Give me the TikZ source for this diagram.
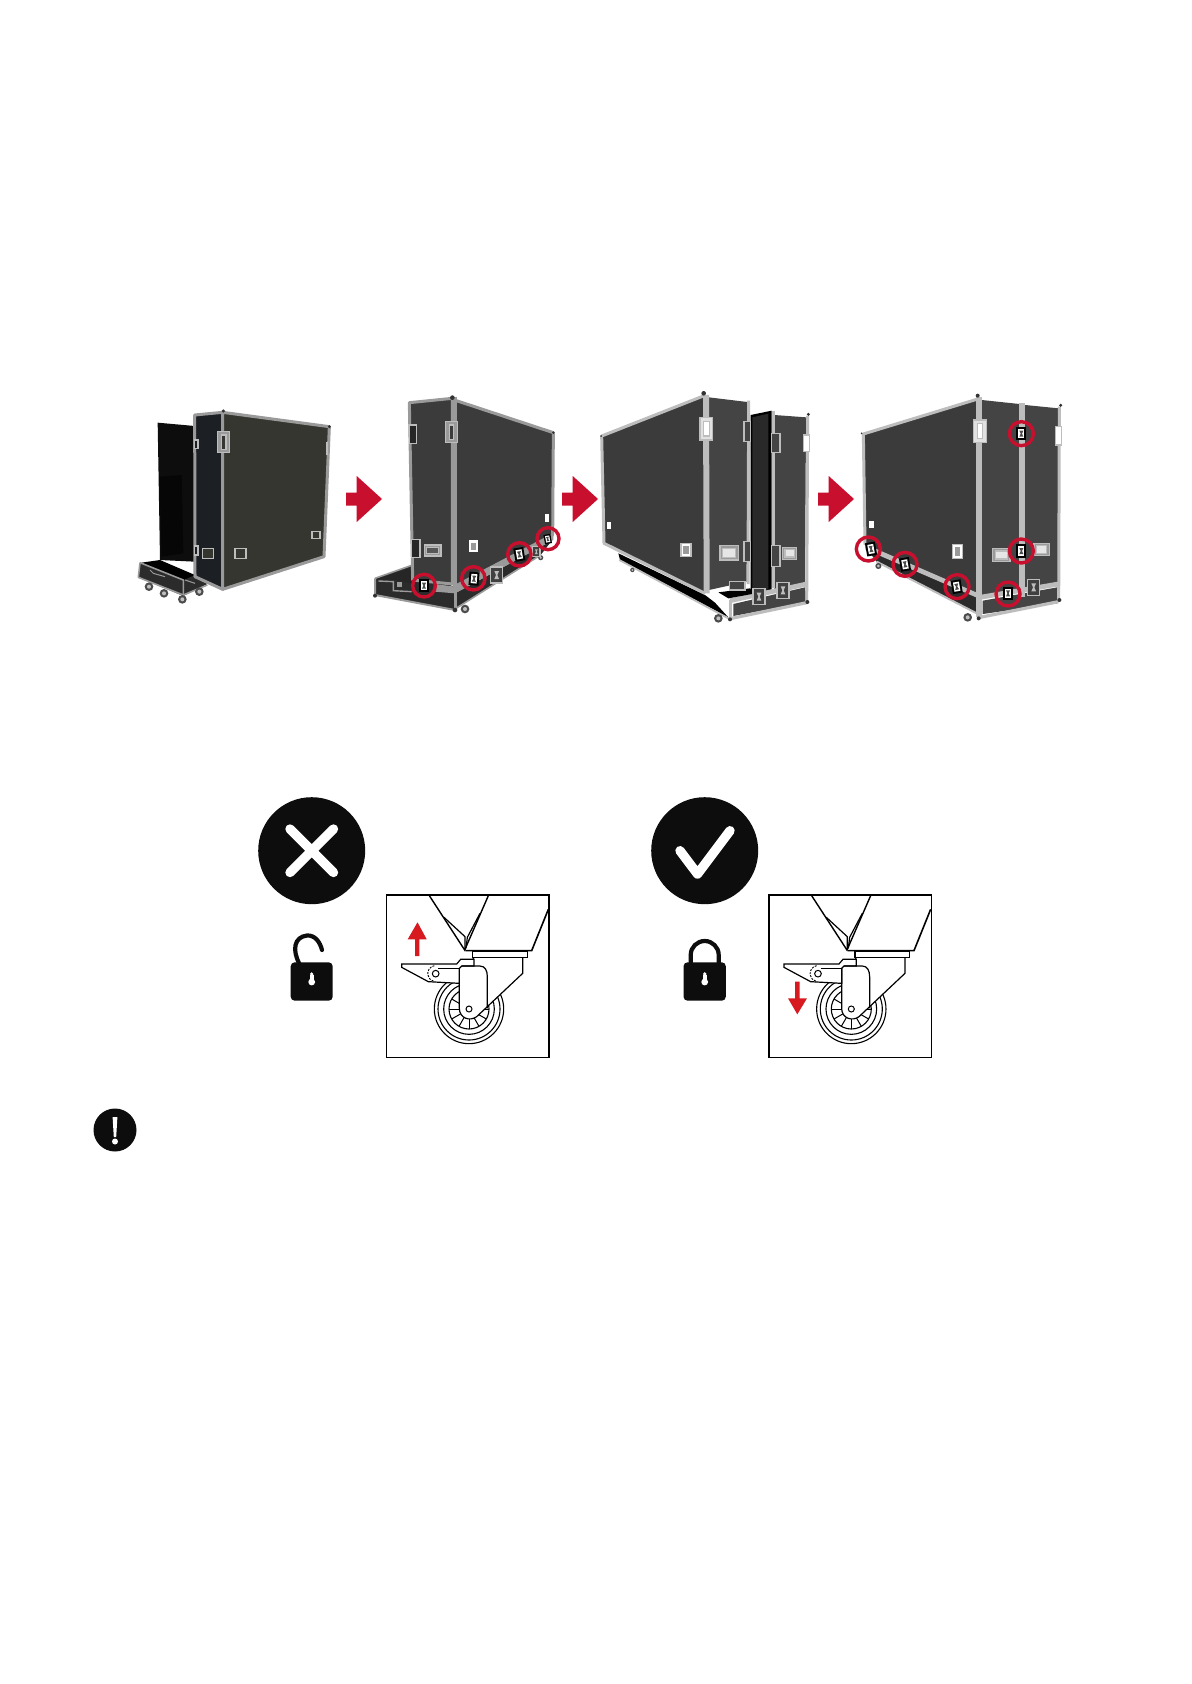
\documentclass[tikz,border=0pt]{standalone}
\usetikzlibrary{arrows.meta,calc,positioning}
\definecolor{ink}{HTML}{0D0D0D}
\definecolor{casered}{HTML}{C8102E}
\definecolor{arrowred}{HTML}{D71920}
\definecolor{olive}{HTML}{35362F}
\definecolor{navy}{HTML}{1C2025}
\definecolor{board}{HTML}{3B3B3B}
\definecolor{door}{HTML}{444444}
\definecolor{trayface}{HTML}{2B2B2B}
\definecolor{rim}{HTML}{9A9A9A}
\definecolor{rimlight}{HTML}{BDBDBD}
\tikzset{
  leftshots/.style={x=0.16667pt, y=-0.16667pt, xshift=60pt, yshift=-190pt},
  rightshots/.style={x=0.16667pt, y=-0.16667pt, xshift=295pt, yshift=-190pt},
  caserim/.style={draw=#1, line width=1.5pt, line join=round},
  caserim/.default=rim,
  handlebox/.style={draw=rimlight, fill=#1, line width=0.7pt},
  handlebox/.default=rim,
  cornerdot/.style={fill=black!80},
  ringmark/.style={draw=casered, line width=1.7pt},
  latchbox/.pic={
    \fill[black] (-15,-20) rectangle (15,20);
    \fill[white] (-9,-14) rectangle (9,14);
    \fill[black!70] (-6,-9) -- (6,-9) -- (2,0) -- (6,9) -- (-6,9) -- (-2,0) -- cycle;
  },
  flatlatch/.pic={
    \draw[rimlight, fill=black!75, line width=0.6pt] (-18,-24) rectangle (18,24);
    \fill[rimlight] (-7,-12) -- (7,-12) -- (2,0) -- (7,12) -- (-7,12) -- (-2,0) -- cycle;
  },
  castwheel/.pic={
    \fill[black!70] (0,0) circle (13);
    \fill[black!25] (0,0) circle (6);
  },
  % one red step arrow, measured from its tail
  steparrow/.pic={
    \fill[casered] (0,-6.5) -- (10.7,-6.5) -- (10.7,-23) -- (36,0) -- (10.7,23) -- (10.7,6.5) -- (0,6.5) -- cycle;
  },
  casterframe/.pic={
    \begin{scope}[x=0.16667pt, y=-0.16667pt, line join=miter, black]
      \draw[line width=0.8pt] (50,45) rectangle (537,532);
      % wheel
      \draw[line width=0.55pt] (297,387) circle (104) circle (93) circle (76) circle (60);
      \foreach \spoke in {0,30,...,330}
        \draw[line width=0.5pt] ($(297,387)+(\spoke:30)$) -- ($(297,387)+(\spoke:60)$);
      % fork and brake lever
      \draw[fill=white, line width=0.6pt] (268,310) -- (268,385) .. controls (268,415) and (300,425) .. (320,410)
        -- (458,280) -- (458,232) -- (310,232) -- (310,250) -- (268,250) -- cycle;
      \draw[fill=white, line width=0.6pt] (95,252) -- (260,252) -- (272,238) -- (312,238) -- (312,258) -- (275,258)
        -- (268,265) -- (268,310) -- (175,305) -- (95,262) -- cycle;
      \draw[line width=0.6pt] (275,258) -- (330,258) .. controls (345,258) and (352,272) .. (352,290) -- (352,385);
      \draw[fill=white, line width=0.5pt] (197,281) circle (10);
      \draw[line width=0.45pt, dashed, dash pattern=on 1pt off 0.6pt] (193,257) arc (-100:-255:24);
      \draw[line width=0.5pt] (205,265) -- (268,265);
      \draw[fill=white, line width=0.5pt] (297,387) circle (9);
      % base plate and cone above it
      \draw[fill=white, line width=0.8pt] (308,215) rectangle (472,232);
      \draw[line width=0.7pt] (178,47) -- (284,210) -- (355,47);
      \draw[line width=0.6pt] (222,112) -- (285,170) -- (285,210);
      \draw[line width=0.6pt] (330,100) -- (292,172) -- (288,205);
      \draw[line width=0.8pt] (286,212) -- (485,212) -- (535,88);
    \end{scope}
  }
}
\begin{document}
\begin{tikzpicture}[x=0.5pt, y=-0.5pt]
  \fill[white] (0,0) rectangle (1191,1684);
  \useasboundingbox (0,0) rectangle (1191,1684);

  %% first shot: cart pulled out of the case
  \begin{scope}[leftshots]
    \fill[ink] (113,128) -- (224,138) -- (224,545) -- (120,540) -- cycle;
    \fill[black!55!ink] (118,290) -- (185,285) -- (190,520) -- (125,530) -- cycle;
    \fill[trayface] (60,548) -- (225,590) -- (262,612) -- (190,648) -- (55,592) -- cycle;
    \fill[black] (64,548) -- (120,540) -- (225,585) -- (190,600) -- cycle;
    \draw[caserim, line width=0.8pt] (60,548) -- (55,592) -- (190,645) -- (262,615);
    \draw[caserim, line width=0.8pt] (60,548) -- (190,600) -- (190,645);
    \draw[rim, line width=0.5pt] (90,570) -- (100,580) -- (135,590) (195,600) -- (225,610);
    \pic at (87,620) {castwheel};
    \pic at (132,640) {castwheel};
    \pic at (187,658) {castwheel};
    \pic at (238,635) {castwheel};
    \filldraw[navy, caserim] (224,105) -- (308,97) -- (308,628) -- (225,590) -- cycle;
    \filldraw[olive, caserim] (308,97) -- (628,140) -- (612,530) -- (308,628) -- cycle;
    \fill[cornerdot] (310,93) circle (5) (628,140) circle (5);
    \draw[handlebox] (292,155) rectangle (328,218);
    \draw[handlebox=olive] (304,165) rectangle (318,208);
    \draw[handlebox=olive] (345,505) rectangle (378,535);
    \draw[handlebox=olive] (247,505) rectangle (280,535);
    \draw[handlebox=olive] (576,455) rectangle (600,475);
    \fill[rimlight] (617,185) rectangle (624,225);
    \draw[handlebox=navy] (224,180) rectangle (234,205);
    \draw[handlebox=navy] (224,498) rectangle (234,525);
  \end{scope}

  %% second shot: side door taken off
  \begin{scope}[leftshots]
    \fill[trayface] (765,595) -- (878,555) -- (1000,620) -- (1005,690) -- (765,645) -- cycle;
    \fill[black!85] (772,597) -- (876,562) -- (880,612) -- (830,600) -- cycle;
    \draw[caserim, line width=1pt] (765,595) -- (765,645) -- (1005,690);
    \draw[caserim, line width=0.8pt] (765,595) -- (878,555);
    \draw[rim, line width=0.7pt] (775,603) -- (820,605) -- (820,632) -- (875,635);
    \fill[rim] (832,605) rectangle (846,622);
    \filldraw[board, caserim] (868,68) -- (997,55) -- (997,612) -- (878,600) -- cycle;
    \filldraw[board, caserim] (1003,60) -- (1300,158) -- (1298,465) -- (1003,620) -- cycle;
    \fill[trayface] (1005,640) -- (1295,482) -- (1262,525) -- (1008,685) -- cycle;
    \fill[rim] (945,612) -- (1005,620) -- (1300,462) -- (1300,480) -- (1005,640) -- (945,635) -- cycle;
    \draw[rim, line width=1.5pt] (1005,50) -- (1005,690);
    \draw[rim, line width=0.8pt] (1008,685) -- (1262,525);
    \pic at (1035,687) {castwheel};
    \pic[scale=0.6] at (1262,533) {castwheel};
    \fill[cornerdot] (997,53) circle (7) (1300,158) circle (4) (765,647) circle (6) (1005,690) circle (7);
    \draw[handlebox] (976,125) rectangle (1012,188);
    \draw[handlebox=board] (988,135) rectangle (1000,178);
    \draw[handlebox=black!85] (868,135) rectangle (890,190);
    \draw[handlebox=black!85] (875,478) rectangle (900,533);
    \draw[handlebox] (913,495) rectangle (963,528);
    \draw[handlebox=board!70!rim] (920,503) rectangle (956,520);
    \fill[white] (1047,481) rectangle (1075,517);
    \fill[rim] (1053,488) rectangle (1069,510);
    \fill[white] (1276,403) rectangle (1288,425);
    \pic at (1130,585) {flatlatch};
    \pic[scale=0.6] at (1249,515) {flatlatch};
    \pic at (912,617) {latchbox};
    \pic[rotate=-5] at (1062,596) {latchbox};
    \pic[rotate=10] at (1198,523) {latchbox};
    \pic[rotate=10, scale=0.7] at (1283,477) {latchbox};
    \draw[ringmark] (912,617) circle (34);
    \draw[ringmark] (1060,595) circle (35);
    \draw[ringmark] (1198,523) circle (35);
    \draw[ringmark] (1284,476) circle (33);
  \end{scope}

  %% third shot: panel going in
  \begin{scope}[rightshots]
    \fill[black] (85,520) -- (345,645) -- (375,668) -- (415,712) -- (90,540) -- cycle;
    \draw[rimlight, line width=0.9pt] (88,540) -- (415,715);
    \fill[board] (35,168) -- (340,48) -- (345,640) -- (40,490) -- cycle;
    \draw[caserim=rimlight] (35,168) -- (340,48) (35,168) -- (42,490) -- (345,640);
    \fill[door] (356,52) -- (472,66) -- (470,605) -- (357,630) -- cycle;
    \draw[rimlight, line width=3pt] (348,45) -- (350,640);
    \draw[rimlight, line width=1.5pt] (476,62) -- (474,612);
    \fill[black] (482,105) -- (545,92) -- (545,632) -- (482,650) -- cycle;
    \fill[board!70!black] (487,112) -- (535,101) -- (535,628) -- (487,640) -- cycle;
    \fill[door] (553,105) -- (648,112) -- (645,615) -- (553,635) -- cycle;
    \draw[rimlight, line width=1.5pt] (549,92) -- (549,625);
    \draw[rimlight, line width=1.5pt] (653,108) -- (650,668);
    \fill[door] (430,672) -- (645,622) -- (645,668) -- (430,708) -- cycle;
    \draw[rimlight, line width=2.4pt] (420,662) -- (650,612);
    \draw[rimlight, line width=1.6pt] (420,716) -- (650,668);
    \draw[rimlight, line width=1.6pt] (422,660) -- (422,716);
    \fill[black] (385,637) -- (480,625) -- (497,640) -- (415,655) -- cycle;
    \pic at (385,715) {castwheel};
    \pic[scale=0.5] at (127,570) {castwheel};
    \fill[cornerdot] (341,40) circle (7) (655,103) circle (5) (652,666) circle (6) (420,718) circle (6) (33,168) circle (3);
    \draw[handlebox=white!70!rim] (330,113) rectangle (368,180);
    \draw[handlebox=white] (341,125) rectangle (358,168);
    \draw[handlebox=white] (641,165) rectangle (659,215);
    \draw[handlebox] (390,497) rectangle (445,540);
    \draw[handlebox=white!75!rim] (398,505) rectangle (437,532);
    \draw[handlebox] (578,502) rectangle (620,538);
    \draw[handlebox=white!75!rim] (585,509) rectangle (613,531);
    \draw[handlebox=white] (273,490) rectangle (303,530);
    \fill[rim] (280,497) rectangle (296,523);
    \fill[white] (50,425) rectangle (63,448);
    \draw[handlebox=door] (462,125) rectangle (482,185);
    \draw[handlebox=door] (545,160) rectangle (570,218);
    \draw[handlebox=door] (462,485) rectangle (482,545);
    \draw[handlebox=door] (545,497) rectangle (570,560);
    \pic at (507,650) {flatlatch};
    \pic at (579,631) {flatlatch};
    \draw[handlebox=door] (418,605) rectangle (465,630);
  \end{scope}

  %% fourth shot: case closed again
  \begin{scope}[rightshots]
    \fill[trayface] (825,500) -- (1165,650) -- (1160,700) -- (860,545) -- cycle;
    \fill[board] (820,162) -- (1160,58) -- (1160,640) -- (825,495) -- cycle;
    \draw[caserim=rimlight] (820,162) -- (1160,58) (820,162) -- (825,495);
    \fill[rimlight] (825,492) -- (1165,640) -- (1165,655) -- (825,508) -- cycle;
    \draw[rimlight, line width=1pt] (860,545) -- (1160,700);
    \fill[door] (1175,60) -- (1288,72) -- (1288,635) -- (1175,650) -- cycle;
    \fill[door] (1305,75) -- (1405,85) -- (1405,612) -- (1305,630) -- cycle;
    \fill[door] (1178,662) -- (1402,622) -- (1402,670) -- (1178,702) -- cycle;
    \draw[rimlight, line width=2.4pt] (1170,652) -- (1405,612);
    \fill[rimlight] (1288,70) rectangle (1305,650);
    \draw[rimlight, line width=3pt] (1167,50) -- (1167,712);
    \draw[rimlight, line width=1.5pt] (1408,80) -- (1406,660);
    \draw[rimlight, line width=1.6pt] (1170,712) -- (1405,665);
    \pic at (1133,712) {castwheel};
    \pic[scale=0.7] at (865,558) {castwheel};
    \fill[cornerdot] (1163,47) circle (6) (1412,76) circle (5) (1408,660) circle (6) (1166,715) circle (6) (815,160) circle (3);
    \draw[handlebox=white!70!rim] (1150,120) rectangle (1190,187);
    \draw[handlebox=white] (1163,130) rectangle (1178,176);
    \draw[handlebox=white] (1396,140) rectangle (1414,195);
    \draw[handlebox] (1208,505) rectangle (1260,545);
    \draw[handlebox=white!75!rim] (1216,513) rectangle (1252,537);
    \draw[handlebox] (1332,490) rectangle (1378,527);
    \draw[handlebox=white!75!rim] (1340,497) rectangle (1370,520);
    \draw[handlebox=white] (1088,493) rectangle (1118,535);
    \fill[rim] (1095,500) rectangle (1111,528);
    \fill[white] (838,422) rectangle (852,445);
    \pic at (1331,622) {flatlatch};
    \pic at (1294,161) {latchbox};
    \pic at (1294,513) {latchbox};
    \pic at (1254,640) {latchbox};
    \pic[rotate=10] at (1100,620) {latchbox};
    \pic[rotate=10] at (945,553) {latchbox};
    \pic[rotate=10] at (843,507) {latchbox};
    \draw[ringmark] (835,507) circle (36);
    \draw[ringmark] (945,553) circle (36);
    \draw[ringmark] (1101,620) circle (36);
    \draw[ringmark] (1294,161) circle (36);
    \draw[ringmark] (1294,513) circle (36);
    \draw[ringmark] (1254,642) circle (36);
  \end{scope}

  %% arrows between the shots
  \foreach \tailx in {346,562,818}
    \pic at (\tailx,499) {steparrow};

  %% wrong / right badges
  \fill[ink] (311.7,850.7) circle (53.5);
  \draw[white, line width=4.7pt, line cap=round] (290,829) -- (333.5,872.5) (333.5,829) -- (290,872.5);
  \fill[ink] (704.7,850.7) circle (53.5);
  \draw[white, line width=4.7pt, line cap=round, line join=round] (680,850.7) -- (697.5,874) -- (730,830.7);

  %% locks
  \draw[ink, line width=2.1pt, line cap=round] (299.5,964) .. controls (292,950) and (294,937) .. (307,935.5) .. controls (315,935) and (320,942) .. (322,950);
  \fill[ink, rounded corners=2pt] (290.7,962.3) rectangle (332.7,1000.7);
  \fill[white] (311.7,982) circle (3.4) (311.7,974) circle (1.8);
  \fill[white] (309.6,975) rectangle (313.8,982);
  \draw[ink, line width=2.1pt] (690.7,965) -- (690.7,955) arc (180:360:14) -- (718.7,965);
  \fill[ink, rounded corners=2pt] (683.5,962.3) rectangle (725.8,1000.7);
  \fill[white] (704.7,982) circle (3.4) (704.7,974) circle (1.8);
  \fill[white] (702.6,975) rectangle (706.8,982);

  %% caster panels
  \pic at (370,880) {casterframe};
  \pic at (752.3,880) {casterframe};
  \fill[arrowred] (417.5,922.3) -- (426.7,939.3) -- (419.3,939.3) -- (419.3,956) -- (415,956) -- (415,939.3) -- (407.7,939.3) -- cycle;
  \fill[arrowred] (797.3,1014.3) -- (807,998.3) -- (799.7,998.3) -- (799.7,981.7) -- (795,981.7) -- (795,998.3) -- (788,998.3) -- cycle;

  %% caution mark
  \fill[ink] (115,1130) circle (21.5);
  \fill[white] (112.6,1117) -- (117.4,1117) -- (116.2,1137) -- (113.8,1137) -- cycle;
  \fill[white] (115,1141.5) circle (3);
\end{tikzpicture}
\end{document}
